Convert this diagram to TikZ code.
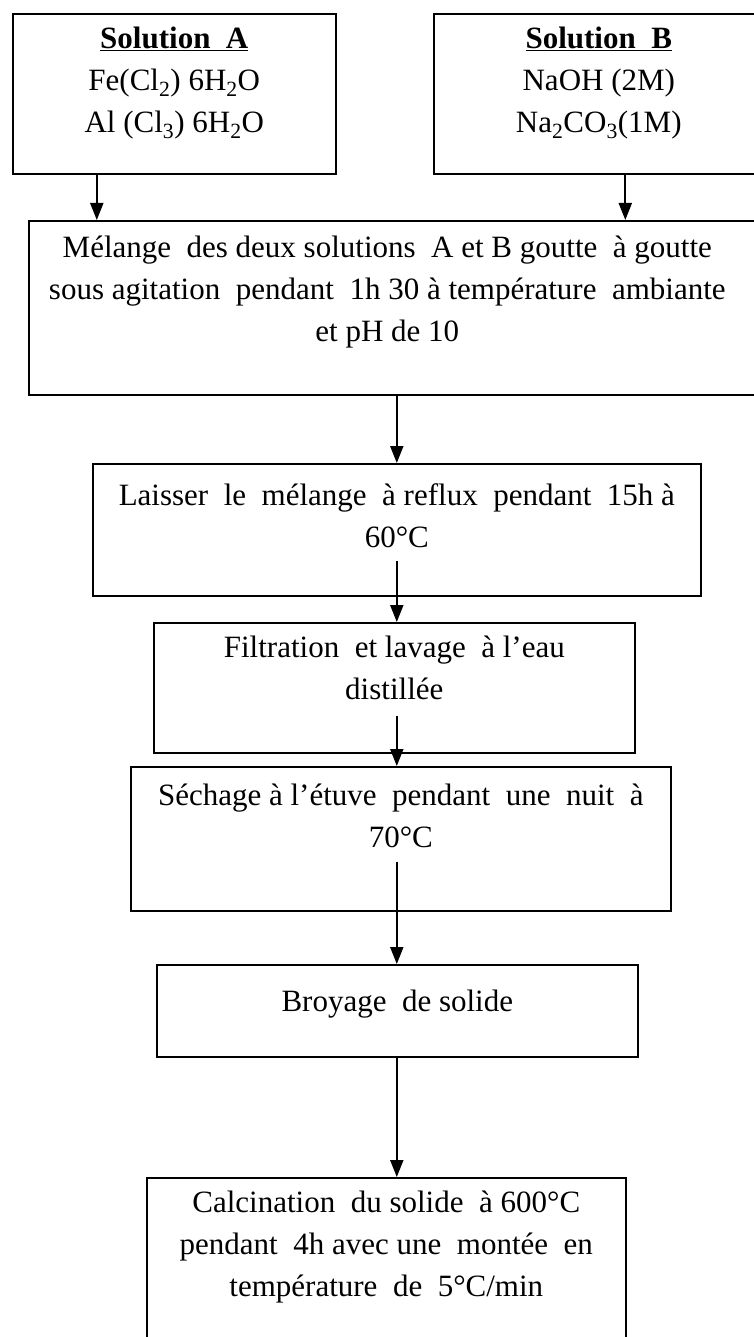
\documentclass[tikz,border=0pt]{standalone}
\usepackage{fontspec}
\setmainfont{Liberation Serif}
\usetikzlibrary{arrows.meta}

\tikzset{
    etape/.style={draw, line width=1.6pt, anchor=north west, inner sep=0pt},
    texte/.style={anchor=north, align=center, inner sep=0pt, font=\fontsize{31}{42}\selectfont},
    fleche/.style={line width=2pt, -{Triangle[length=17pt,width=13pt]}}
}

\begin{document}
\begin{tikzpicture}[x=1pt, y=-1pt]
    \useasboundingbox (0,0) rectangle (753,1337);
    % les boites
    \node[etape, minimum width=323pt, minimum height=160pt] (solA)     at ( 12,  13) {};
    \node[etape, minimum width=340pt, minimum height=160pt] (solB)     at (433,  13) {};
    \node[etape, minimum width=745pt, minimum height=174pt] (melange)  at ( 28, 220) {};
    \node[etape, minimum width=608pt, minimum height=132pt] (reflux)   at ( 92, 463) {};
    \node[etape, minimum width=481pt, minimum height=130pt] (filtre)   at (153, 622) {};
    \node[etape, minimum width=540pt, minimum height=144pt] (sechage)  at (130, 766) {};
    \node[etape, minimum width=481pt, minimum height= 92pt] (broyage)  at (156, 964) {};
    \node[etape, minimum width=479pt, minimum height=230pt] (calcin)   at (146,1177) {};
    % les textes
    \node[texte] (solA-t)    at ([yshift=-14pt]solA.north)    {\underline{\textbf{Solution\ \ A}}\\Fe(Cl\textsubscript{2}) 6H\textsubscript{2}O\\Al (Cl\textsubscript{3}) 6H\textsubscript{2}O};
    \node[texte] (solB-t)    at ([yshift=-14pt,xshift=-5pt]solB.north) {\underline{\textbf{Solution\ \ B}}\\NaOH (2M)\\Na\textsubscript{2}CO\textsubscript{3}(1M)};
    \node[texte] (melange-t) at ([yshift=-16pt,xshift=-14pt]melange.north) {M\'elange\ \ des deux solutions\ \ A et B goutte\ \ \`a goutte\\sous agitation\ \ pendant\ \ 1h 30 \`a temp\'erature\ \ ambiante\\et pH de 10};
    \node[texte] (reflux-t)  at ([yshift=-20pt]reflux.north)  {Laisser\ \ le\ \ m\'elange\ \ \`a reflux\ \ pendant\ \ 15h \`a\\60°C};
    \node[texte] (filtre-t)  at ([yshift=-14pt]filtre.north)  {Filtration\ \ et lavage\ \ \`a l’eau\\distill\'ee};
    \node[texte] (sechage-t) at ([yshift=-18pt]sechage.north) {S\'echage \`a l’\'etuve\ \ pendant\ \ une\ \ nuit\ \ \`a\\70°C};
    \node[texte] (broyage-t) at ([yshift=-26pt]broyage.north) {Broyage\ \ de solide};
    \node[texte] (calcin-t)  at ([yshift=-14pt]calcin.north)  {Calcination\ \ du solide\ \ \`a 600°C\\pendant\ \ 4h avec une\ \ mont\'ee\ \ en\\temp\'erature\ \ de\ \ 5°C/min};
    % les fleches
    \draw[fleche] ([xshift=-77.5pt]solA.south) -- ([xshift=-77.5pt]solA.south |- melange.north);
    \draw[fleche] ([xshift=21.5pt]solB.south)  -- ([xshift=21.5pt]solB.south |- melange.north);
    \draw[fleche] (melange.south -| reflux.north) -- (reflux.north);
    \draw[fleche] ([yshift=36pt]reflux.south) -- (reflux.south |- filtre.north);
    \draw[fleche] ([yshift=38pt]reflux.south |- filtre.south) -- (reflux.south |- sechage.north);
    \draw[fleche] ([yshift=50pt]reflux.south |- sechage.south) -- (reflux.south |- broyage.north);
    \draw[fleche] (reflux.south |- broyage.south) -- (reflux.south |- calcin.north);
\end{tikzpicture}
\end{document}
